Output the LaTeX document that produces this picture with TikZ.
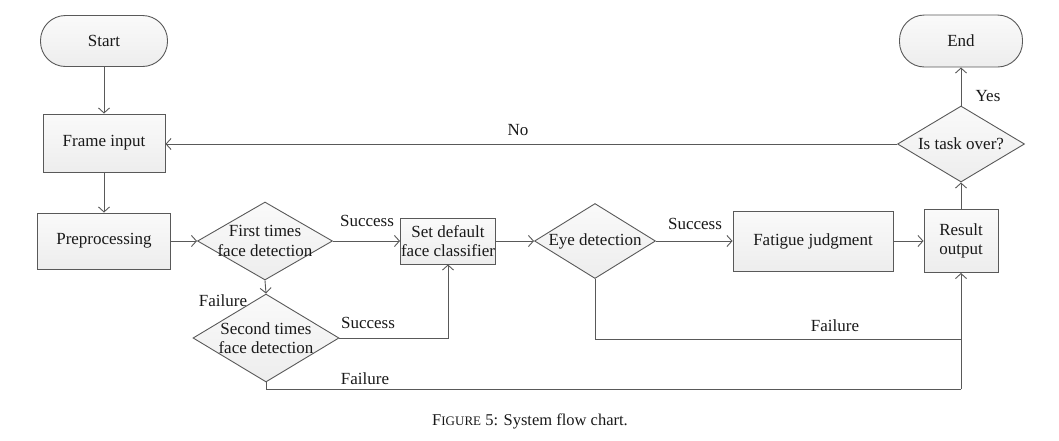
\documentclass[tikz,border=0pt]{standalone}
\usepackage{fontspec}
\setmainfont{Liberation Serif}
\usetikzlibrary{shapes.geometric,arrows.meta}
\begin{document}
\begin{tikzpicture}[x=1pt,y=-1pt,
  every node/.style={font=\fontsize{17}{19.5}\selectfont, text=black!90},
  line/.style={draw=black!65, line width=0.9pt},
  arr/.style={line, -{Straight Barb[length=5pt,width=11pt,line width=0.9pt]}},
  boxfill/.style={top color=gray!4, bottom color=gray!14, draw=black!65, line width=0.9pt},
  terminal/.style={boxfill, rectangle, rounded corners=25pt, minimum width=127pt, minimum height=51pt, inner sep=0pt},
  procbox/.style={boxfill, rectangle, inner sep=0pt, align=center},
  decision/.style={boxfill, diamond, inner sep=0pt, shape aspect=1},
  dtext/.style={align=center, font=\fontsize{17}{19.5}\selectfont},
  lbl/.style={inner sep=1pt}
]
\useasboundingbox (0,0) rectangle (1059,440);

% nodes
\node[terminal] (start) at (104,41) {Start};
\node[procbox, minimum width=122pt, minimum height=58pt] (frame) at (104,143) {Frame input};
\node[procbox, minimum width=133pt, minimum height=56pt] (pre) at (104,241) {Preprocessing};
\node[decision, minimum width=135pt, minimum height=78pt,
      label={[dtext]center:First times\\face detection}] (d1) at (265,241) {};
\node[decision, minimum width=146pt, minimum height=88pt,
      label={[dtext]center:Second times\\face detection}] (d2) at (266,338) {};
\node[procbox, minimum width=95pt, minimum height=46pt] (setbox) at (448,241) {Set default\\face classifier};
\node[decision, minimum width=121pt, minimum height=75pt,
      label={[dtext]center:Eye detection}] (eye) at (595,241) {};
\node[procbox, minimum width=160pt, minimum height=60pt] (fat) at (813,241) {Fatigue judgment};
\node[procbox, minimum width=74pt, minimum height=63pt] (res) at (961,241) {Result\\output};
\node[decision, minimum width=127pt, minimum height=76pt,
      label={[dtext]center:Is task over?}] (task) at (961,144) {};
\node[terminal, minimum width=123pt, minimum height=52pt] (end) at (961,41) {End};

\coordinate (fb) at (961,389);
\coordinate (fe) at (961,339);

% connectors
\draw[arr] (start) -- (frame);
\draw[arr] (frame) -- (pre);
\draw[arr] (pre.east) -- (d1.west);
\draw[arr] (d1.east) -- (setbox.west);
\draw[arr] (d1.south) -- (d2.north);
\draw[arr] (d2.east) -| (setbox.south);
\draw[line] (d2.south) |- (fb);
\draw[arr] (fb) -- (res.south);
\draw[arr] (setbox.east) -- (eye.west);
\draw[arr] (eye.east) -- (fat.west);
\draw[line] (eye.south) |- (fe);
\draw[arr] (fat.east) -- (res.west);
\draw[arr] (res.north) -- (task.south);
\draw[arr] (task.north) -- (end.south);
\draw[arr] (task.west) -- (task.west -| frame.east);

% labels
\node[lbl] at (367,221) {Success};
\node[lbl] at (368,323) {Success};
\node[lbl] at (223,301) {Failure};
\node[lbl] at (365,379) {Failure};
\node[lbl] at (695,224) {Success};
\node[lbl] at (835,326) {Failure};
\node[lbl] at (988,96) {Yes};
\node[lbl] at (518,130) {No};

% caption
\node[font=\fontsize{16.5}{19}\selectfont] (cap) at (530,421) {F{\fontsize{13}{15}\selectfont IGURE} 5: System flow chart.};
\end{tikzpicture}
\end{document}
